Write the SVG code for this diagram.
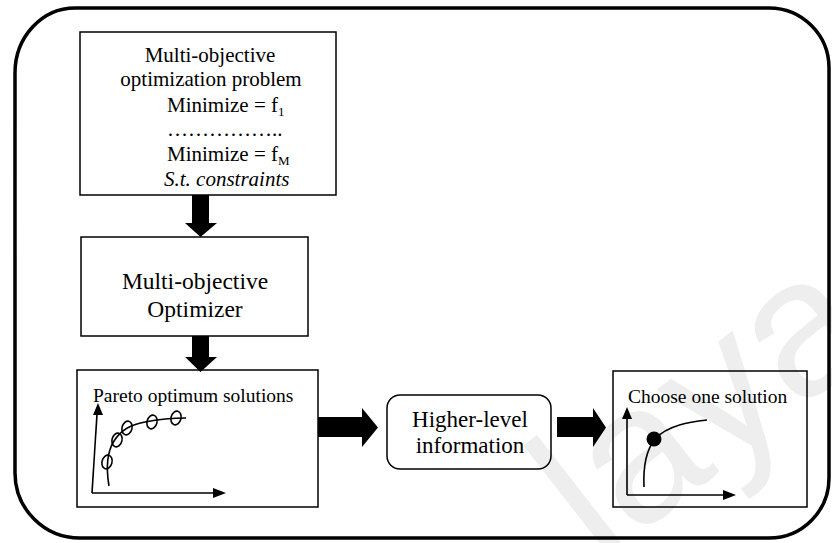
<svg xmlns="http://www.w3.org/2000/svg" width="832" height="543" viewBox="0 0 832 543">
  <style>
    .frame { fill: none; stroke: #000; stroke-width: 3.5; }
    .box { fill: none; stroke: #000; stroke-width: 1.5; }
    .lbl { font-family: "Liberation Serif", "Times New Roman", serif; fill: #000; }
    .ax { fill: none; stroke: #000; stroke-width: 1.6; }
    .pt { fill: none; stroke: #000; stroke-width: 1.6; }
    .arrow { fill: #000; stroke: none; }
    .mark { font-family: "Liberation Sans", Arial, sans-serif; font-size: 195px; fill: #eeeeee; }
  </style>

  <rect width="832" height="543" fill="#fff"/>

  <!-- faint background lettering, clipped to the page -->
  <clipPath id="page"><rect width="832" height="543"/></clipPath>
  <g clip-path="url(#page)">
    <text class="mark" transform="translate(600,565) rotate(-38)">laya</text>
  </g>

  <!-- outer rounded frame -->
  <path class="frame" d="M75,8 H769 A60,60 0 0 1 829,68 V478 A60,60 0 0 1 769,538 H80 A65,65 0 0 1 15,473 V73 A60,65 0 0 1 75,8 Z"/>

  <!-- problem definition -->
  <g id="problem">
    <rect class="box" x="80" y="32" width="256" height="163"/>
    <text class="lbl" font-size="21" x="210" y="62" text-anchor="middle">Multi-objective</text>
    <text class="lbl" font-size="21" x="211" y="86" text-anchor="middle">optimization problem</text>
    <text class="lbl" font-size="21" x="167" y="112">Minimize = f<tspan font-size="13" dy="4">1</tspan></text>
    <text class="lbl" font-size="21" x="167" y="136">……………..</text>
    <text class="lbl" font-size="21" x="167" y="161">Minimize = f<tspan font-size="13" dy="4">M</tspan></text>
    <text class="lbl" font-size="21" x="164" y="186" font-style="italic">S.t. constraints</text>
  </g>

  <!-- optimizer -->
  <g id="optimizer">
    <rect class="box" x="81" y="237" width="227" height="99"/>
    <text class="lbl" font-size="23.5" x="195" y="289" text-anchor="middle">Multi-objective</text>
    <text class="lbl" font-size="23.5" x="195" y="317" text-anchor="middle">Optimizer</text>
  </g>

  <!-- Pareto set -->
  <g id="pareto">
    <rect class="box" x="77" y="370" width="241" height="137"/>
    <text class="lbl" font-size="19.5" x="93" y="402">Pareto optimum solutions</text>
    <path class="ax" d="M92,493 L97,414"/>
    <polygon class="arrow" points="98,403 93,415 103,415"/>
    <path class="ax" d="M92,493 H214"/>
    <polygon class="arrow" points="226,493 213,488 213,498"/>
    <path class="ax" d="M109,486 C106,468 107,452 114,441 C121,430 130,425 145,422 C160,419 175,418 186,418"/>
    <ellipse class="pt" cx="107" cy="462" rx="5" ry="7" transform="rotate(15 107 462)"/>
    <ellipse class="pt" cx="117" cy="440" rx="5" ry="7" transform="rotate(15 117 440)"/>
    <ellipse class="pt" cx="127" cy="428" rx="5" ry="7" transform="rotate(15 127 428)"/>
    <ellipse class="pt" cx="152" cy="422" rx="5" ry="7" transform="rotate(15 152 422)"/>
    <ellipse class="pt" cx="176" cy="418" rx="5" ry="7" transform="rotate(15 176 418)"/>
  </g>

  <!-- decision information -->
  <g id="higher-level">
    <rect class="box" x="387" y="395" width="164" height="74" rx="13" ry="13"/>
    <text class="lbl" font-size="23" x="470" y="427" text-anchor="middle">Higher-level</text>
    <text class="lbl" font-size="23" x="470" y="453" text-anchor="middle">information</text>
  </g>

  <!-- chosen solution -->
  <g id="choice">
    <rect class="box" x="613" y="371" width="194" height="136"/>
    <text class="lbl" font-size="19.5" x="628" y="403">Choose one solution</text>
    <path class="ax" d="M627,495 V418"/>
    <polygon class="arrow" points="627,407 622,419 632,419"/>
    <path class="ax" d="M627,495 H724"/>
    <polygon class="arrow" points="736,495 723,490 723,500"/>
    <path class="ax" d="M644,487 C643,466 647,449 655,439 C668,425 690,422 707,420"/>
    <circle cx="654" cy="439" r="7.5" fill="#000"/>
  </g>

  <!-- block arrows between stages -->
  <g id="connectors">
    <polygon class="arrow" points="192,195 209,195 209,223 217,223 200.5,237 185,223 192,223"/>
    <polygon class="arrow" points="192,336 209,336 209,357 217,357 200.5,372 185,357 192,357"/>
    <polygon class="arrow" points="318,417 362,417 362,408 378,427.5 362,447 362,437 318,437"/>
    <polygon class="arrow" points="557,417 593,417 593,408 606,427.5 593,447 593,437 557,437"/>
  </g>
</svg>
